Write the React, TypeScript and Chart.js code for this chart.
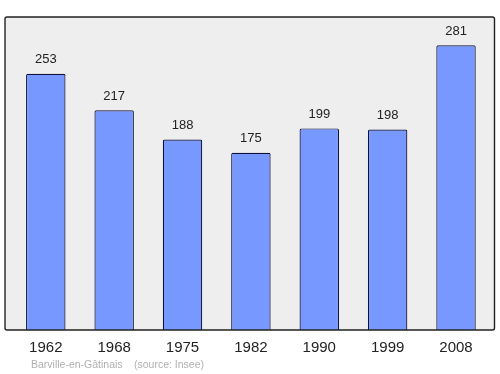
import React, { useEffect, useRef } from "react";
import { Chart, registerables } from "chart.js";

Chart.register(...registerables);

const years = ["1962", "1968", "1975", "1982", "1990", "1999", "2008"];
const population = [253, 217, 188, 175, 199, 198, 281];
const footerName = "Barville-en-Gâtinais";
const footerSource = "(source: Insee)";

const FONT = "'Liberation Sans', Arial, sans-serif";

const framePlugin = {
  id: "frame",
  beforeDatasetsDraw(chart: any) {
    const { ctx, chartArea } = chart;
    ctx.save();
    ctx.fillStyle = "#eeeeee";
    ctx.fillRect(5, chartArea.top, 489.5, chartArea.bottom - chartArea.top);
    ctx.restore();
  },
  afterDatasetsDraw(chart: any) {
    const { ctx, chartArea, scales } = chart;
    ctx.save();
    ctx.strokeStyle = "#222222";
    ctx.lineWidth = 1.4;
    ctx.beginPath();
    const l = 5, r = 494.5, t = chartArea.top, b = chartArea.bottom;
    const rad = 2;
    ctx.moveTo(l + rad, t);
    ctx.lineTo(r - rad, t);
    ctx.quadraticCurveTo(r, t, r, t + rad);
    ctx.lineTo(r, b - rad);
    ctx.quadraticCurveTo(r, b, r - rad, b);
    ctx.lineTo(l + rad, b);
    ctx.quadraticCurveTo(l, b, l, b - rad);
    ctx.lineTo(l, t + rad);
    ctx.quadraticCurveTo(l, t, l + rad, t);
    ctx.stroke();

    const x = scales.x;
    const y = scales.y;
    ctx.fillStyle = "#222222";
    ctx.textAlign = "center";
    ctx.textBaseline = "middle";
    ctx.font = `13px ${FONT}`;
    population.forEach((v, i) => {
      ctx.fillText(String(v), x.getPixelForValue(i), y.getPixelForValue(v) - 14);
    });
    ctx.font = `15px ${FONT}`;
    years.forEach((yr, i) => {
      ctx.fillText(yr, x.getPixelForValue(i), b + 18);
    });
    ctx.textAlign = "left";
    ctx.fillStyle = "#b0b0b0";
    ctx.font = `10.5px ${FONT}`;
    ctx.fillText(footerName, 31, b + 35);
    ctx.fillText(footerSource, 134, b + 35);
    ctx.restore();
  },
};

export default function App() {
  const ref = useRef<HTMLCanvasElement>(null);
  useEffect(() => {
    document.body.style.margin = "0";
    const chart = new Chart(ref.current!, {
      type: "bar",
      data: {
        labels: years,
        datasets: [
          {
            data: population,
            backgroundColor: "#7799ff",
            borderColor: "#10103a",
            borderWidth: 1.2,
            borderRadius: 1.5,
            borderSkipped: "bottom",
            barPercentage: 0.577,
            categoryPercentage: 1,
          },
        ],
      },
      options: {
        animation: false,
        responsive: false,
        maintainAspectRatio: false,
        layout: { padding: { left: 11.6, right: 9.8, top: 17, bottom: 44 } },
        plugins: { legend: { display: false }, tooltip: { enabled: false } },
        scales: {
          x: { display: false, offset: true },
          y: { display: false, min: 0, max: 309 },
        },
      },
      plugins: [framePlugin],
    });
    return () => chart.destroy();
  }, []);
  return (
    <div style={{ position: "fixed", left: 0, top: 0, width: 500, height: 374, background: "#fff" }}>
      <canvas ref={ref} width={500} height={374} style={{ width: 500, height: 374 }} />
    </div>
  );
}
